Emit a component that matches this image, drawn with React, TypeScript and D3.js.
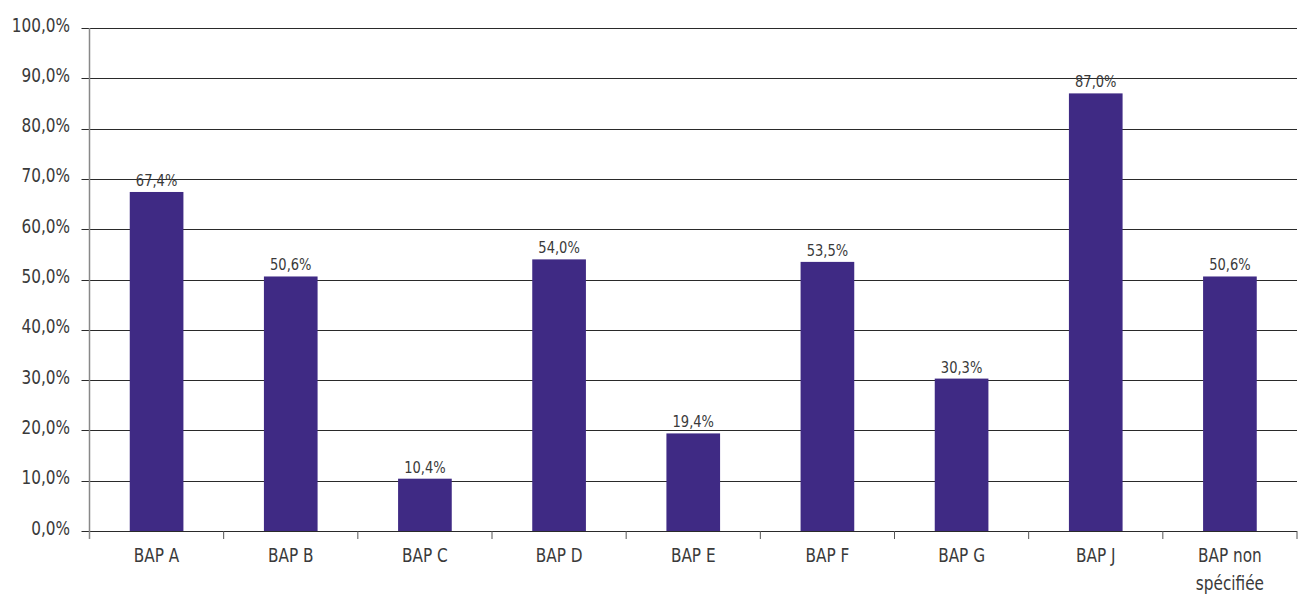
import React, { useEffect, useRef } from 'react';
import * as d3 from 'd3';

const categories = ['BAP A', 'BAP B', 'BAP C', 'BAP D', 'BAP E', 'BAP F', 'BAP G', 'BAP J', 'BAP non spécifiée'];
const values = [67.4, 50.6, 10.4, 54.0, 19.4, 53.5, 30.3, 87.0, 50.6];
const yTicks = [0, 10, 20, 30, 40, 50, 60, 70, 80, 90, 100];

const fmt = (v: number) => v.toFixed(1).replace('.', ',') + '%';

const App = () => {
  const svgRef = useRef<SVGSVGElement>(null);

  useEffect(() => {
    document.body.style.margin = '0';
    const width = 1298;
    const height = 596;
    const left = 89.5;
    const right = 1297;
    const top = 28;
    const bottom = 531;
    const font = '"DejaVu Sans Condensed", "Liberation Sans Narrow", sans-serif';
    const sx = 0.85; // narrow the font horizontally

    const svg = d3.select(svgRef.current).attr('width', width).attr('height', height);
    svg.selectAll('*').remove();

    const x = d3.scaleBand<string>().domain(categories).range([left, right]).paddingInner(0.6).paddingOuter(0.3);
    const xOuter = d3.scaleBand<string>().domain(categories).range([left, right]);
    const y = d3.scaleLinear().domain([0, 100]).range([bottom, top]);

    // gridlines
    svg
      .append('g')
      .selectAll('line')
      .data(yTicks)
      .join('line')
      .attr('x1', left - 8)
      .attr('x2', right)
      .attr('y1', (d) => Math.round(y(d)) + 0.5)
      .attr('y2', (d) => Math.round(y(d)) + 0.5)
      .attr('stroke', '#2a2a2a')
      .attr('stroke-width', 1);

    // y labels
    svg
      .append('g')
      .selectAll('text')
      .data(yTicks)
      .join('text')
      .attr('transform', (d) => `translate(70,${y(d) + 3.5}) scale(${sx},1)`)
      .attr('text-anchor', 'end')
      .attr('font-family', font)
      .attr('font-size', 20)
      .attr('fill', '#3a3a3a')
      .text((d) => fmt(d));

    // bars
    svg
      .append('g')
      .selectAll('rect')
      .data(values)
      .join('rect')
      .attr('x', (d, i) => x(categories[i])!)
      .attr('y', (d) => y(d))
      .attr('width', x.bandwidth())
      .attr('height', (d) => bottom - y(d))
      .attr('fill', '#3f2a84');

    // value labels
    svg
      .append('g')
      .selectAll('text')
      .data(values)
      .join('text')
      .attr('transform', (d, i) => `translate(${x(categories[i])! + x.bandwidth() / 2},${y(d) - 6}) scale(0.88,1)`)
      .attr('text-anchor', 'middle')
      .attr('font-family', font)
      .attr('font-size', 16.5)
      .attr('fill', '#3a3a3a')
      .text((d) => fmt(d));

    // y axis line
    svg
      .append('line')
      .attr('x1', left)
      .attr('x2', left)
      .attr('y1', top)
      .attr('y2', bottom + 8)
      .attr('stroke', '#888')
      .attr('stroke-width', 1.5);

    // x ticks at band boundaries
    const bounds = categories.map((c) => xOuter(c)!).concat([right]);
    svg
      .append('g')
      .selectAll('line')
      .data(bounds.slice(1))
      .join('line')
      .attr('x1', (d) => d)
      .attr('x2', (d) => d)
      .attr('y1', bottom)
      .attr('y2', bottom + 8)
      .attr('stroke', '#555')
      .attr('stroke-width', 1);

    // category labels
    const cat = svg
      .append('g')
      .selectAll('text')
      .data(categories)
      .join('text')
      .attr('transform', (d) => `translate(${xOuter(d)! + xOuter.bandwidth() / 2},562) scale(${sx},1)`)
      .attr('text-anchor', 'middle')
      .attr('font-family', font)
      .attr('font-size', 20)
      .attr('fill', '#3a3a3a');
    cat.each(function (d) {
      const t = d3.select(this);
      const parts = d === 'BAP non spécifiée' ? ['BAP non', 'spécifiée'] : [d];
      parts.forEach((p, i) => {
        t.append('tspan')
          .attr('x', 0)
          .attr('dy', i === 0 ? 0 : 28)
          .text(p);
      });
    });
  }, []);

  return (
    <div>
      <svg ref={svgRef} style={{ display: 'block' }}></svg>
    </div>
  );
};

export default App;
